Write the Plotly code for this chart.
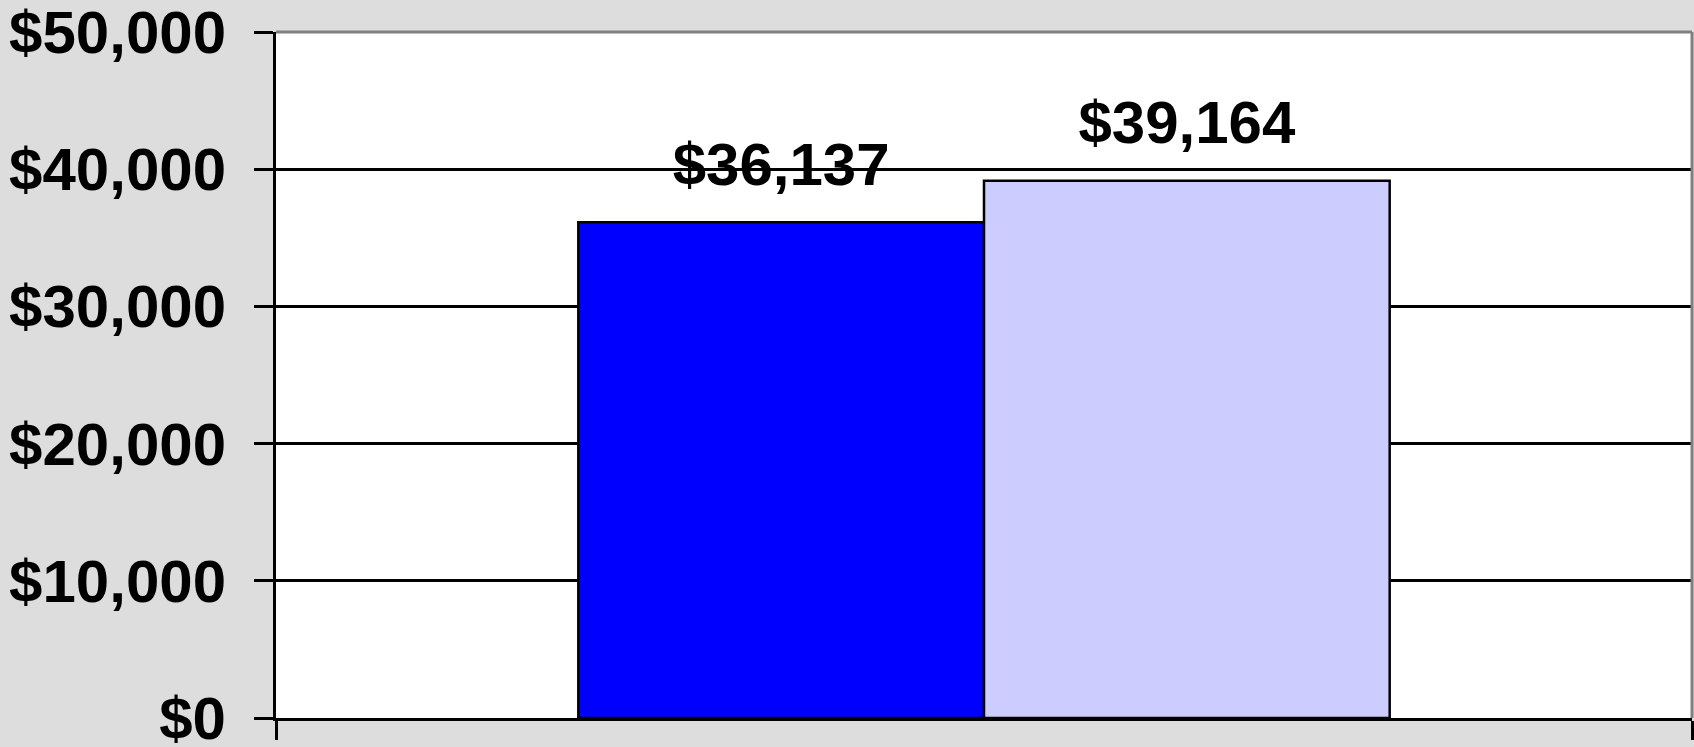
import plotly.graph_objects as go

categories = ["Median Household Income"]
series_names = ["Series A", "Series B"]
series_values = [[36137], [39164]]
series_colors = ["#0000FF", "#CCCCFF"]
y_tick_values = [0, 10000, 20000, 30000, 40000, 50000]
y_tick_labels = ["$0", "$10,000", "$20,000", "$30,000", "$40,000", "$50,000"]

FONT = "Liberation Sans, Arial, sans-serif"

fig = go.Figure()
for name, vals, col in zip(series_names, series_values, series_colors):
    fig.add_trace(go.Bar(
        x=categories, y=vals, name=name, offsetgroup=name, alignmentgroup="g",
        marker=dict(color=col, line=dict(color="black", width=2.5)),
        hoverinfo="skip",
    ))
for name, vals in zip(series_names, series_values):
    fig.add_trace(go.Scatter(
        x=categories, y=vals, name=name + " label", offsetgroup=name, alignmentgroup="g",
        orientation="v", mode="markers+text",
        text=[f"${v:,}" for v in vals], textposition="top center",
        textfont=dict(family=FONT, size=60, color="black", weight="bold"),
        marker=dict(size=34, opacity=0), hoverinfo="skip", cliponaxis=False,
    ))

fig.update_layout(
    width=1694, height=747,
    margin=dict(l=276, r=2, t=32, b=29),
    paper_bgcolor="#DDDDDD", plot_bgcolor="white",
    barmode="group", bargap=0.427, bargroupgap=0,
    scattermode="group",
    showlegend=False,
)
fig.update_xaxes(
    type="category", range=[-0.5, 0.5], showticklabels=False, automargin=False,
    showline=True, linecolor="black", linewidth=3,
    ticks="outside", tickson="boundaries", ticklen=19, tickwidth=3, tickcolor="black",
    showgrid=False, zeroline=False,
)
fig.update_yaxes(
    range=[0, 50000], tickvals=y_tick_values, ticktext=y_tick_labels,
    tickfont=dict(family=FONT, size=60, color="black", weight="bold"),
    ticklabeloverflow="allow", automargin=False,
    showline=True, linecolor="black", linewidth=3,
    ticks="outside", ticklen=19, tickwidth=3, tickcolor="black",
    ticklabelstandoff=16,
    showgrid=True, gridcolor="black", gridwidth=2.5, zeroline=False,
)
fig.add_shape(type="line", xref="paper", yref="paper", x0=0, x1=1, y0=1, y1=1,
              line=dict(color="#808080", width=3))
fig.add_shape(type="line", xref="paper", yref="paper", x0=1, x1=1, y0=0, y1=1,
              line=dict(color="#808080", width=3))

fig.write_html("out.html", config={"displayModeBar": False},
               post_script="document.body.style.margin='0';document.body.style.overflow='hidden';")
